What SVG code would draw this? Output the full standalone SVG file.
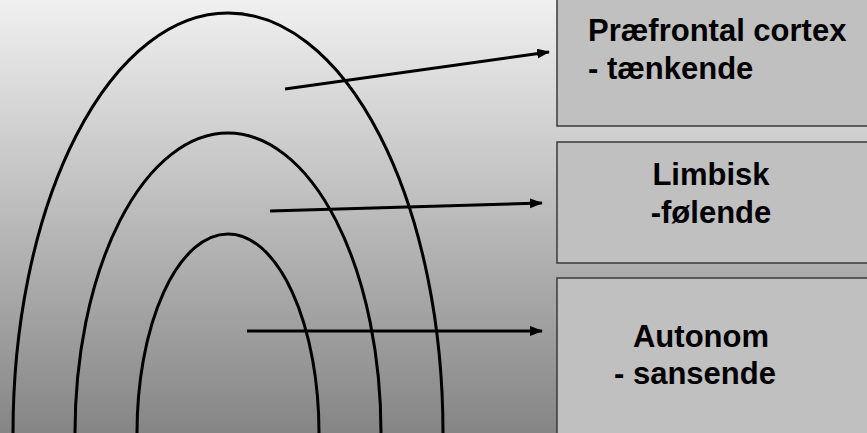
<svg xmlns="http://www.w3.org/2000/svg" width="867" height="433" viewBox="0 0 867 433">
<style>
.box{fill:#c0c0c0;stroke:#3a3a3a;stroke-width:1.5}
.lbl{font-family:"Liberation Sans",Arial,sans-serif;font-weight:bold;font-size:31px;fill:#000}
.arch{fill:none;stroke:#000;stroke-width:3}
.conn{fill:none;stroke:#000;stroke-width:3}
</style>
<defs>
<linearGradient id="bg" x1="0" y1="0" x2="0" y2="1">
<stop offset="0" stop-color="#f0f0f0"/>
<stop offset="1" stop-color="#858585"/>
</linearGradient>
<marker id="ah" markerUnits="userSpaceOnUse" markerWidth="14" markerHeight="12" refX="12" refY="5" orient="auto">
<path d="M0,0 L13,5 L0,10 z" fill="#000"/>
</marker>
</defs>
<rect x="0" y="0" width="867" height="433" fill="url(#bg)"/>
<g id="arches">
<path class="arch" d="M13,433 A215,420 0 0 1 443,433"/>
<path class="arch" d="M75,433 A153,300 0 0 1 381,433"/>
<path class="arch" d="M137,433 A91,199 0 0 1 319,433"/>
</g>
<g id="node-praefrontal">
<rect class="box" x="557" y="-10" width="320" height="136"/>
<text class="lbl" x="588" y="41">Præfrontal cortex</text>
<text class="lbl" x="588" y="79">- tænkende</text>
</g>
<g id="node-limbisk">
<rect class="box" x="557" y="142" width="320" height="121"/>
<text class="lbl" x="711" y="185" text-anchor="middle">Limbisk</text>
<text class="lbl" x="711" y="223" text-anchor="middle">-følende</text>
</g>
<g id="node-autonom">
<rect class="box" x="557" y="278" width="320" height="170"/>
<text class="lbl" x="701" y="347" text-anchor="middle">Autonom</text>
<text class="lbl" x="695" y="384" text-anchor="middle">- sansende</text>
</g>
<g id="connectors">
<line class="conn" x1="285" y1="89" x2="549" y2="52" marker-end="url(#ah)"/>
<line class="conn" x1="270" y1="211" x2="542" y2="203" marker-end="url(#ah)"/>
<line class="conn" x1="247" y1="331" x2="542" y2="331" marker-end="url(#ah)"/>
</g>
</svg>
